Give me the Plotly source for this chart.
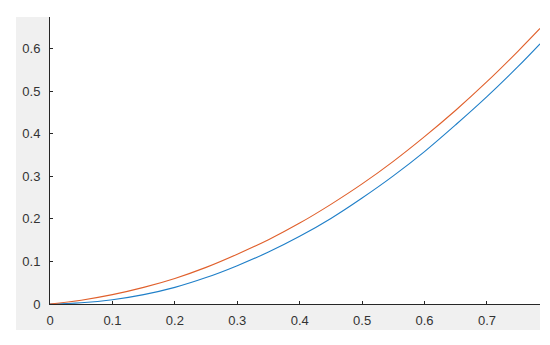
import plotly.graph_objects as go

# values
x_vals = [0, 0.05, 0.1, 0.15, 0.2, 0.25, 0.3, 0.35, 0.4, 0.45, 0.5,
          0.55, 0.6, 0.65, 0.7, 0.75, 0.785]
blue_vals = [0, 0.003, 0.010, 0.022, 0.039, 0.062, 0.090, 0.122, 0.159,
             0.201, 0.249, 0.301, 0.358, 0.421, 0.487, 0.558, 0.611]
orange_vals = [0, 0.009, 0.022, 0.039, 0.060, 0.086, 0.117, 0.151, 0.190,
               0.234, 0.282, 0.335, 0.393, 0.455, 0.522, 0.594, 0.647]

x_ticks = [0, 0.1, 0.2, 0.3, 0.4, 0.5, 0.6, 0.7]
y_ticks = [0, 0.1, 0.2, 0.3, 0.4, 0.5, 0.6]

# the page body has an 8px margin, so the figure is shifted by 8px
OFF = 8
W, H = 550 - OFF, 345 - OFF
L, R, T, B = 50 - OFF, 540 - OFF, 17 - OFF, 304 - OFF
pw, ph = R - L, B - T

fig = go.Figure()
fig.add_trace(go.Scatter(x=x_vals, y=blue_vals, mode="lines", line_shape="spline",
                         line={"color": "#1f7fc8", "width": 1.1}, hoverinfo="skip"))
fig.add_trace(go.Scatter(x=x_vals, y=orange_vals, mode="lines", line_shape="spline",
                         line={"color": "#e0602c", "width": 1.1}, hoverinfo="skip"))

axis_common = dict(
    showgrid=False, zeroline=False, showline=True, linecolor="#262626", linewidth=1,
    ticks="inside", ticklen=3, tickcolor="#262626",
    tickfont={"family": "Liberation Sans, Arial", "size": 13, "color": "#333333"},
)
fig.update_xaxes(range=[0, 0.785], tickvals=x_ticks, ticklabelstandoff=4, **axis_common)
fig.update_yaxes(range=[0, 0.674], tickvals=y_ticks, ticklabelstandoff=6, **axis_common)

# grey figure background peeking out left and below the axes
fig.add_shape(type="rect", xref="paper", yref="paper", layer="below",
              x0=(16 - OFF - L) / pw, x1=1, y0=(B - (330 - OFF)) / ph, y1=1,
              fillcolor="#f0f0f0", line_width=0)
fig.add_shape(type="rect", xref="paper", yref="paper", layer="below",
              x0=0, x1=1, y0=0, y1=1, fillcolor="white", line_width=0)

fig.update_layout(
    width=W, height=H, showlegend=False,
    paper_bgcolor="white", plot_bgcolor="white",
    margin={"l": L, "r": W - R, "t": T, "b": H - B},
)

fig.write_html("out.html")
